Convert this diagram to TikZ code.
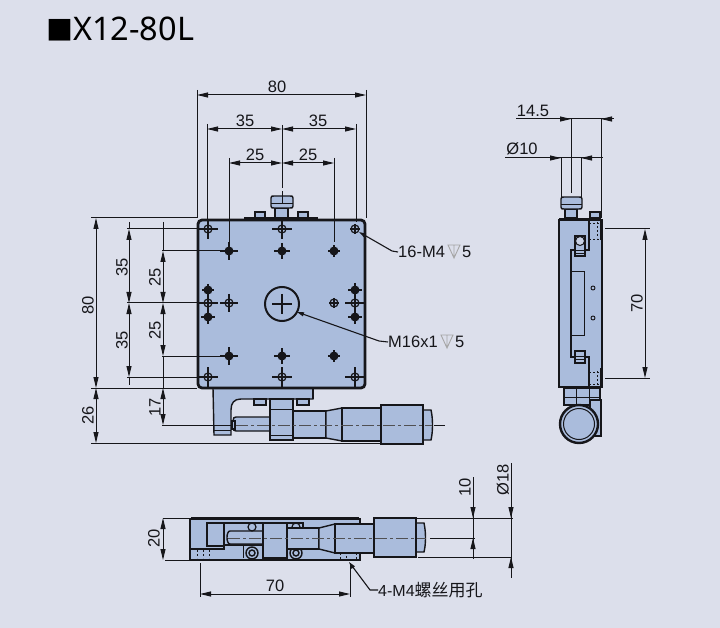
\documentclass[tikz,border=0pt]{standalone}
\usepackage{fontspec}
\setmainfont{Liberation Sans}
\newfontfamily\cjkfont{Noto Sans CJK SC}
\newfontfamily\titlefont{Noto Sans}
\usepackage{tikz}
\usetikzlibrary{arrows.meta}
\definecolor{sheet}{RGB}{220,223,235}
\definecolor{steel}{RGB}{170,188,220}
\definecolor{ink}{RGB}{22,22,26}
\tikzset{
  dimtip/.tip={Stealth[length=11pt,width=5pt,inset=0pt]},
  dimline/.style={ink, line width=1pt},
  dimarrow/.style={dimline, dimtip-dimtip},
  onetip/.style={dimline, dimtip-},
  leader/.style={ink, line width=1.1pt, {Stealth[length=7pt,width=4pt,inset=0pt]}-},
  outline/.style={ink, line width=1.4pt, fill=steel},
  heavy/.style={ink, line width=2.8pt},
  centerline/.style={ink!75, line width=1pt, dash pattern=on 12pt off 3pt on 3pt off 3pt},
  thread/.style={ink, line width=0.8pt, dash pattern=on 2pt off 2pt},
  lbl/.style={inner sep=0pt, text=ink, font=\fontsize{16.5}{16.5}\selectfont}
}
\newcommand{\holeopen}[3]{
  \draw[ink, line width=1.2pt] (#1,#2) circle (4);
  \draw[ink, line width=1.2pt] (#1-#3,#2) -- (#1+#3,#2) (#1,#2-#3) -- (#1,#2+#3);
}
\newcommand{\holeblack}[3]{
  \fill[ink] (#1,#2) circle (4.5);
  \draw[ink, line width=1.2pt] (#1-#3,#2) -- (#1+#3,#2) (#1,#2-#3) -- (#1,#2+#3);
}
\newcommand{\depthmark}[2]{
  \draw[gray!70, line width=0.9pt] (#1-6,#2-7) -- (#1+6,#2-7) -- (#1,#2+6) -- cycle (#1,#2-7) -- (#1,#2+6);
}
\begin{document}
\begin{tikzpicture}[x=1pt,y=-1pt]
\fill[sheet] (0,0) rectangle (720,628);
\useasboundingbox (0,0) rectangle (720,628);

\node[anchor=west, inner sep=0pt, text=black, font=\fontsize{32.5}{32.5}\titlefont] (title) at (46,29) {{\fontsize{27}{27}\cjkfont ■}X12-80L};

% front view, parts behind the plate
\draw[outline] (213,388) -- (313,388) -- (313,399) -- (241,399) .. controls (234,399) and (231,403) .. (231,410) -- (231,435) -- (214,435) -- cycle;
\draw[ink, line width=1pt] (214,430) -- (231,430);
\draw[heavy] (313,388) -- (313,399);
\draw[outline] (254,399) rectangle (266,405);
\draw[outline] (297,399) rectangle (309,405);
\draw[outline] (233,421) .. controls (233,418) and (234,417) .. (236,417) -- (270,417) -- (270,431) -- (236,431) .. controls (234,431) and (233,430) .. (233,427) -- cycle;
\draw[outline] (232,421) rectangle (235,429);
\draw[outline] (293,411) rectangle (326,438);
\draw[outline] (326,411) -- (342,408) -- (342,441) -- (326,438) -- cycle;
\draw[outline] (342,408) rectangle (381,441);
\draw[outline] (423,410) -- (431,410) .. controls (433,418) and (433,432) .. (431,440) -- (423,440) -- cycle;
\draw[outline] (381,405) rectangle (423,444);
\draw[outline] (270,399) rectangle (293,440);
\draw[ink, line width=1pt] (270,409) -- (293,409) (270,435) -- (293,435);

% knob above the plate
\draw[outline] (275,208) rectangle (288,218);
\draw[outline] (271,198) .. controls (271,196) and (272,196) .. (274,196) -- (290,196) .. controls (292,196) and (293,196) .. (293,198) -- (293,206) .. controls (293,208) and (292,208) .. (290,208) -- (274,208) .. controls (272,208) and (271,208) .. (271,206) -- cycle;
\draw[ink, line width=0.8pt] (271,203) -- (293,203);
\draw[outline] (255,212) rectangle (265,218);
\draw[outline] (298,212) rectangle (308,218);
\draw[heavy] (244,218) -- (318,218);

% plate
\draw[ink, fill=steel, line width=2.8pt, rounded corners=4pt] (198,220) rectangle (365,388);
\draw[ink, line width=2pt] (282,304) circle (17);
\draw[ink, line width=1.1pt] (272,304) -- (292,304) (282,294) -- (282,314);

\holeopen{208}{229}{10}
\holeopen{282}{229}{10}
\holeopen{355}{229}{5}
\holeblack{229}{251}{9}
\holeblack{282}{251}{8}
\holeblack{334}{251}{6}
\holeblack{208}{290}{6}
\holeopen{208}{303}{10}
\holeblack{208}{317}{7}
\holeopen{229}{303}{9}
\holeopen{334}{303}{5}
\holeblack{355}{290}{7}
\holeopen{355}{303}{10}
\holeblack{355}{317}{7}
\holeblack{229}{356}{9}
\holeblack{282}{356}{8}
\holeblack{334}{356}{6}
\holeopen{208}{377}{10}
\holeopen{282}{377}{10}
\holeopen{355}{377}{10}

% micrometer centre line, front
\draw[dimline] (162,425) -- (232,425);
\draw[centerline] (236,425) -- (432,425);
\draw[dimline] (434,425) -- (445,425);
\draw[dimline] (282,125) -- (282,188);
\draw[dimline] (282,191) -- (282,203);

% front view, dimensions above
\draw[dimline] (197,90) -- (197,218) (366,90) -- (366,218);
\draw[dimarrow] (197,95) -- (366,95);
\node[lbl] (wide) at (277,87) {80};
\draw[dimline] (207,124) -- (207,222) (356,124) -- (356,222);
\draw[dimarrow] (207,129) -- (282,129);
\draw[dimarrow] (282,129) -- (356,129);
\node[lbl] (pitchl) at (245,121) {35};
\node[lbl] (pitchr) at (318,121) {35};
\draw[dimline] (229,158) -- (229,242) (334,158) -- (334,242);
\draw[dimarrow] (229,163) -- (282,163);
\draw[dimarrow] (282,163) -- (334,163);
\node[lbl] (innerl) at (255,155) {25};
\node[lbl] (innerr) at (308,155) {25};

% front view, dimensions on the left
\draw[dimline] (91,218) -- (197,218) (91,388) -- (197,388) (91,443) -- (381,443);
\draw[dimarrow] (96,218) -- (96,388);
\draw[dimarrow] (96,388) -- (96,443);
\node[lbl, rotate=90] (high) at (88,305) {80};
\node[lbl, rotate=90] (travel) at (88,415) {26};
\draw[dimline] (127,229) -- (198,229) (127,303) -- (198,303) (127,377) -- (198,377);
\draw[dimline] (129,222) -- (129,229) (129,377) -- (129,385);
\draw[dimarrow] (129,229) -- (129,303);
\draw[dimarrow] (129,303) -- (129,377);
\node[lbl, rotate=90] (pitcht) at (122,267) {35};
\node[lbl, rotate=90] (pitchb) at (122,340) {35};
\draw[dimline] (162,251) -- (220,251) (162,356) -- (220,356);
\draw[dimline] (163,222) -- (163,251) (163,356) -- (163,388);
\draw[dimarrow] (163,251) -- (163,303);
\draw[dimarrow] (163,303) -- (163,356);
\draw[dimarrow] (163,388) -- (163,425);
\node[lbl, rotate=90] (innert) at (155,277) {25};
\node[lbl, rotate=90] (innerb) at (155,330) {25};
\node[lbl, rotate=90] (axis) at (155,407) {17};

% callouts
\coordinate (holetip) at (359,232);
\coordinate (holeknee) at (392,251);
\node[lbl, anchor=west] (holes) at (398,252) {16-M4};
\draw[leader] (holetip) -- (holeknee) -- (holes.west);
\depthmark{454}{252}
\node[lbl, anchor=west] (holesdepth) at (462,252) {5};
\coordinate (boretip) at (297,312);
\coordinate (boreknee) at (379,341);
\node[lbl, anchor=west] (bore) at (388,342) {M16x1};
\draw[leader] (boretip) -- (boreknee) -- (bore.west);
\depthmark{447}{342}
\node[lbl, anchor=west] (boredepth) at (455,342) {5};

% side view
\draw[outline] (565,209) rectangle (577,218);
\draw[outline] (561,199) .. controls (561,197) and (562,197) .. (564,197) -- (579,197) .. controls (581,197) and (582,197) .. (582,199) -- (582,207) .. controls (582,209) and (581,209) .. (579,209) -- (564,209) .. controls (562,209) and (561,209) .. (561,207) -- cycle;
\draw[ink, line width=0.8pt] (561,204) -- (582,204);
\draw[outline] (590,212) rectangle (600,218);
\draw[outline] (564,388) rectangle (600,405);
\draw[ink, line width=1pt] (576,388) -- (576,405) (589,388) -- (589,405) (564,397) -- (600,397);
\draw[outline] (590,400) -- (601,400) -- (601,436) -- (590,436) -- cycle;
\draw[outline] (559,220) rectangle (602,387);
\draw[heavy] (559,219) -- (559,387);
\draw[ink, line width=1.8pt] (559,219) -- (601,219) (559,387) -- (601,387);
\draw[ink, line width=1.4pt] (589,220) -- (589,250) -- (571,250) -- (571,357) -- (589,357) -- (589,387);
\draw[ink, line width=1pt] (570,272) rectangle (584,335);
\draw[outline] (575,236) rectangle (585,256);
\draw[ink, line width=1pt, fill=sheet!60!steel] (580,241) circle (4.5);
\draw[ink, line width=0.8pt] (575,250) -- (585,250) (575,253) -- (585,253);
\draw[outline] (575,351) rectangle (585,363);
\draw[ink, line width=0.8pt] (575,356) -- (585,356) (575,359) -- (585,359);
\draw[ink, line width=0.9pt] (593,288) circle (2) (593,318) circle (2);
\draw[thread] (589,223) -- (601,223) (589,239) -- (601,239) (589,372) -- (601,372) (589,384) -- (601,384);
\draw[ink, line width=1.2pt] (601,220) -- (601,240) (601,368) -- (601,387);
\draw[thread] (597,222) -- (597,238) (597,371) -- (597,385);
\draw[ink, line width=2.4pt, fill=steel] (579,424) circle (19);
\draw[ink, line width=1pt] (579,424) circle (15.5);

% side view, dimensions
\draw[dimline] (571,119) -- (571,193) (601,119) -- (601,218);
\draw[dimline] (516,119) -- (613,119);
\draw[onetip] (571,119) -- (558,119);
\draw[onetip] (601,119) -- (614,119);
\node[lbl] (screwpos) at (533,111) {14.5};
\draw[dimline] (561,158) -- (561,197) (581,158) -- (581,197);
\draw[dimline] (505,158) -- (603,158);
\draw[onetip] (561,158) -- (549,158);
\draw[onetip] (581,158) -- (594,158);
\node[lbl] (knobdia) at (522,149) {Ø10};
\draw[dimline] (605,229) -- (650,229) (605,378) -- (650,378);
\draw[dimarrow] (645,229) -- (645,378);
\node[lbl, rotate=90] (railpitch) at (637,303) {70};

% bottom view
\draw[outline] (190,519) rectangle (360,560);
\draw[ink, line width=2.4pt] (191,518) -- (359,518) (191,560) -- (359,560);
\draw[ink, line width=1.8pt] (190,519) -- (190,560);
\draw[ink, line width=1.1pt] (207,523) rectangle (224,546);
\draw[ink, line width=1.1pt] (207,523) -- (303,523) -- (303,532);
\draw[ink, line width=1.6pt] (190,549) -- (224,549) -- (224,545) -- (263,545);
\draw[ink, line width=1pt] (243,545) -- (243,558) (247,559) -- (290,559);
\draw[outline] (230,531) -- (263,531) -- (263,544) -- (230,544) .. controls (226,544) and (226,531) .. (230,531) -- cycle;
\draw[ink, line width=1.4pt, fill=steel] (252,553) circle (6) (252,553) circle (3);
\draw[ink, line width=1.4pt, fill=steel] (296,553) circle (6) (296,553) circle (3);
\draw[ink, line width=1.2pt] (252,527) circle (4) (296,527) circle (4);
\draw[thread] (197,550) -- (197,558) (203,550) -- (203,558) (209,550) -- (209,558);
\draw[thread] (340,549) -- (340,559) (346,552) -- (346,559) (356,549) -- (356,559);
\draw[outline] (287,528) rectangle (319,549);
\draw[outline] (319,528) -- (335,524) -- (335,553) -- (319,549) -- cycle;
\draw[outline] (335,524) rectangle (374,553);
\draw[outline] (416,523) -- (424,523) .. controls (426,532) and (426,544) .. (424,552) -- (416,552) -- cycle;
\draw[outline] (374,518) rectangle (416,557);
\draw[outline] (263,523) rectangle (287,558);
\draw[centerline] (228,538) -- (426,538);

% bottom view, dimensions
\draw[dimline] (163,518) -- (189,518) (165,560) -- (190,560);
\draw[dimarrow] (163,518) -- (163,560);
\node[lbl, rotate=90] (thick) at (154,538) {20};
\draw[dimline] (200,563) -- (200,597) (350,563) -- (350,597);
\draw[dimarrow] (200,594) -- (350,594);
\node[lbl] (basepitch) at (275,586) {70};
\draw[dimline] (417,518) -- (513,518) (430,538) -- (475,538) (418,557) -- (512,557);
\draw[dimline] (473,477) -- (473,559);
\draw[onetip] (473,518) -- (473,505);
\draw[onetip] (473,538) -- (473,551);
\node[lbl, rotate=90] (offset) at (465,487) {10};
\draw[dimline] (511,463) -- (511,578);
\draw[onetip] (511,518) -- (511,505);
\draw[onetip] (511,557) -- (511,570);
\node[lbl, rotate=90] (thimbledia) at (503,480) {Ø18};
\coordinate (mounttip) at (349,562);
\coordinate (mountknee) at (370,590);
\node[lbl, anchor=west, font=\fontsize{16}{16}\selectfont] (mount) at (378,590) {4-M4{\fontsize{17}{17}\cjkfont 螺丝用孔}};
\draw[leader] (mounttip) -- (mountknee) -- (mount.west);

\end{tikzpicture}
\end{document}
